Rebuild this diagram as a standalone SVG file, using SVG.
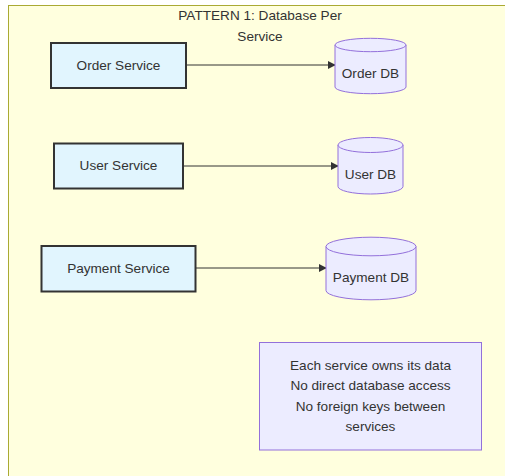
<svg xmlns="http://www.w3.org/2000/svg" width="505" height="476" viewBox="0 0 505 476">
  <style>
    text { font-family: "Liberation Sans", Arial, sans-serif; font-size: 13.6px; fill: #333333; text-anchor: middle; }
    .cluster { fill: #ffffde; stroke: #aaaa33; stroke-width: 1; }
    .svc { fill: #e1f5fe; stroke: #333333; stroke-width: 2; }
    .db { fill: #ececff; stroke: #9370db; stroke-width: 1; }
    .note { fill: #ececff; stroke: #9370db; stroke-width: 1; }
    .edge { stroke: #333333; stroke-width: 1; fill: none; marker-end: url(#arrow); }
  </style>
  <defs>
    <marker id="arrow" viewBox="0 0 10 10" refX="9" refY="5" markerWidth="8" markerHeight="8" markerUnits="userSpaceOnUse" orient="auto">
      <path d="M0,0 L10,5 L0,10 z" fill="#333333"/>
    </marker>
  </defs>
  <rect width="505" height="476" fill="#ffffff"/>

  <g id="pattern1">
    <rect class="cluster" x="8.5" y="5.5" width="510" height="490"/>
    <text x="260" y="19.5">PATTERN 1: Database Per</text>
    <text x="260" y="40.5">Service</text>
  </g>

  <g id="connectors">
    <path class="edge" d="M186,65 L335,65"/>
    <path class="edge" d="M183,166 L338,166"/>
    <path class="edge" d="M196,268 L326,268"/>
  </g>

  <g id="order-service">
    <rect class="svc" x="51" y="43" width="135" height="45"/>
    <text x="118.5" y="70">Order Service</text>
  </g>
  <g id="order-db">
    <path class="db" d="M335,45 A35.5,6.7 0 0 1 406,45 L406,87 A35.5,6.7 0 0 1 335,87 Z"/>
    <path class="db" d="M335,45 A35.5,6.7 0 0 0 406,45" fill="none"/>
    <text x="370.5" y="77.5">Order DB</text>
  </g>

  <g id="user-service">
    <rect class="svc" x="54" y="143.5" width="129" height="45"/>
    <text x="118.5" y="170">User Service</text>
  </g>
  <g id="user-db">
    <path class="db" d="M338,145 A32.5,7.5 0 0 1 403,145 L403,186.5 A32.5,7.5 0 0 1 338,186.5 Z"/>
    <path class="db" d="M338,145 A32.5,7.5 0 0 0 403,145" fill="none"/>
    <text x="370.5" y="178.5">User DB</text>
  </g>

  <g id="payment-service">
    <rect class="svc" x="41.5" y="246" width="154" height="45.5"/>
    <text x="118.5" y="273">Payment Service</text>
  </g>
  <g id="payment-db">
    <path class="db" d="M326,246.5 A45,9.3 0 0 1 416,246.5 L416,290.5 A45,9.3 0 0 1 326,290.5 Z"/>
    <path class="db" d="M326,246.5 A45,9.3 0 0 0 416,246.5" fill="none"/>
    <text x="371" y="281.5">Payment DB</text>
  </g>

  <g id="note">
    <rect class="note" x="259.5" y="342.5" width="222" height="107.5"/>
    <text x="370.5" y="369.5">Each service owns its data</text>
    <text x="370.5" y="389.5">No direct database access</text>
    <text x="370.5" y="410.5">No foreign keys between</text>
    <text x="370.5" y="431">services</text>
  </g>
</svg>
